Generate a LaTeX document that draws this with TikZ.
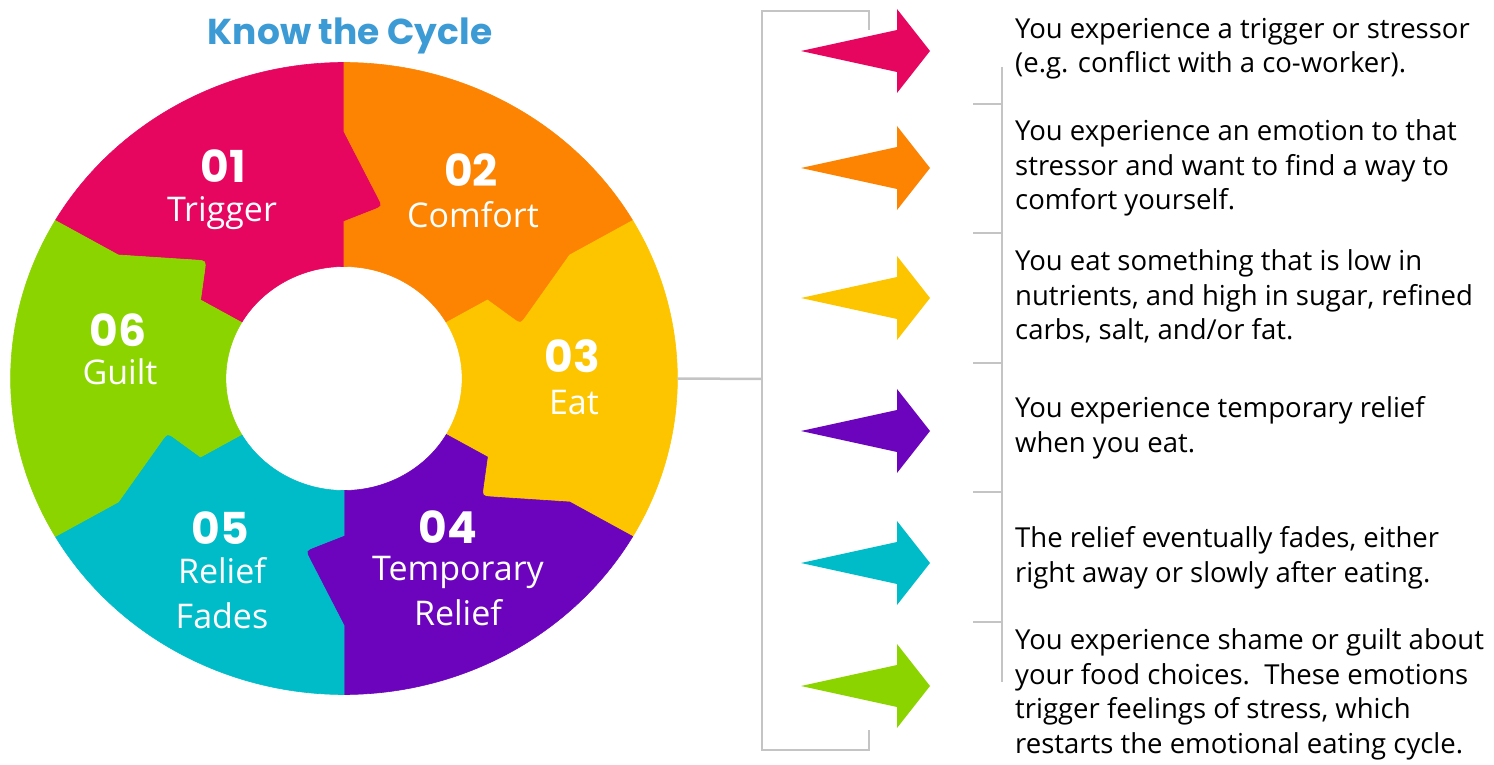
\documentclass[tikz,border=0pt]{standalone}
\usepackage{fontspec}
\setmainfont{Open Sans}
\newfontfamily\numfont{Poppins}
\usetikzlibrary{calc,positioning}

\definecolor{trigger}{HTML}{E6065F}
\definecolor{comfort}{HTML}{FD8402}
\definecolor{eat}{HTML}{FDC500}
\definecolor{relief}{HTML}{6C04BE}
\definecolor{fades}{HTML}{00BCC8}
\definecolor{guilt}{HTML}{8CD400}
\definecolor{titleblue}{HTML}{3C9AD5}
\definecolor{bracketgray}{HTML}{C4C4C4}

\tikzset{
  num/.style={font=\numfont\bfseries\fontsize{44}{44}\selectfont, text=white, anchor=base, inner sep=0pt},
  word/.style={font=\fontsize{34}{45}\selectfont, text=white, anchor=base, align=center, inner sep=0pt},
  desc/.style={font=\fontsize{27.5}{34.5}\selectfont, anchor=base west, align=left, inner sep=0pt},
  brace/.style={draw=bracketgray, line width=2.5pt},
}

% one piece of the ring: colour, clockwise edge angle, other edge angle
\newcommand{\cyclepart}[3]{%
  \filldraw[#1, line width=0.6pt] (#3:316) arc[start angle=#3, end angle=#2, radius=316]
    -- (#2:247) -- ($(#2-12:176)!10pt!(#2:247)$) .. controls (#2-12:176) .. ($(#2-12:176)!10pt!(#2:157)$)
    -- (#2:157) -- (#2:112) arc[start angle=#2, end angle=#3, radius=112]
    -- (#3:157) -- ($(#3-12:176)!10pt!(#3:157)$) .. controls (#3-12:176) .. ($(#3-12:176)!10pt!(#3:247)$)
    -- (#3:247) -- cycle;}

% big arrow: colour, centre height
\newcommand{\cyclearrow}[2]{%
  \fill[#1] (801,#2) -- (897,#2+21) -- (897,#2+42) -- (930,#2) -- (897,#2-42) -- (897,#2-21) -- cycle;}

\begin{document}
\begin{tikzpicture}[x=1pt, y=1pt]
  \useasboundingbox (0,0) rectangle (1494,764);

  \node (title) [font=\numfont\bfseries\fontsize{36}{36}\selectfont, text=titleblue, anchor=base] at (350,719) {Know the Cycle};

  % the ring
  \begin{scope}[shift={(344,385.5)}, x=1.055pt, y=1pt]
    \cyclepart{trigger}{90}{150}
    \cyclepart{comfort}{30}{90}
    \cyclepart{eat}{-30}{30}
    \cyclepart{relief}{-90}{-30}
    \cyclepart{fades}{-150}{-90}
    \cyclepart{guilt}{-210}{-150}
    \coordinate (ringeast) at (0:316);
  \end{scope}

  % labels, placed by the baseline of their last line
  \node (n01) [num] at (223,581) {01};
  \node (w01) [word] at (222,542) {Trigger};
  \node (n02) [num] at (471,577) {02};
  \node (w02) [word] at (473,536) {Comfort};
  \node (n03) [num] at (572,391) {03};
  \node (w03) [word] at (574,349) {Eat};
  \node (n04) [num] at (448,221) {04};
  \node (w04) [word] at (458,139) {Temporary\\Relief};
  \node (n05) [num] at (220,220) {05};
  \node (w05) [word] at (222,136) {Relief\\Fades};
  \node (n06) [num] at (118,417) {06};
  \node (w06) [word] at (120,379) {Guilt};

  % bracket
  \coordinate (brkmid) at (762,385);
  \coordinate (brktop) at (869,734);
  \coordinate (brkbot) at (869,34);
  \draw[brace] (ringeast) -- (brkmid);
  \draw[brace] (brktop) -- (869,753) -- (762,753) -- (762,14) -- (869,14) -- (brkbot);

  \cyclearrow{trigger}{713}
  \cyclearrow{comfort}{596}
  \cyclearrow{eat}{466}
  \cyclearrow{relief}{333}
  \cyclearrow{fades}{201}
  \cyclearrow{guilt}{78}

  % rule beside the texts
  \coordinate (ruletop) at (1002,697);
  \coordinate (rulebot) at (1002,82);
  \draw[brace, line width=2pt] (ruletop) -- (rulebot);
  \draw[brace, line width=2pt] (973,660) -- (1002,660);
  \draw[brace, line width=2pt] (973,531) -- (1002,531);
  \draw[brace, line width=2pt] (973,401) -- (1002,401);
  \draw[brace, line width=2pt] (973,272) -- (1002,272);
  \draw[brace, line width=2pt] (973,142) -- (1002,142);

  \node (desc1) [desc] at (1015,691) {You experience a trigger or stressor\\(e.g. conflict with a co-worker).};
  \node (desc2) [desc] at (1015,554) {You experience an emotion to that\\stressor and want to find a way to\\comfort yourself.};
  \node (desc3) [desc] at (1015,424) {You eat something that is low in\\nutrients, and high in sugar, refined\\carbs, salt, and/or fat.};
  \node (desc4) [desc] at (1015,312) {You experience temporary relief\\when you eat.};
  \node (desc5) [desc] at (1015,182) {The relief eventually fades, either\\right away or slowly after eating.};
  \node (desc6) [desc] at (1015,11) {You experience shame or guilt about\\your food choices.\ \ These emotions\\trigger feelings of stress, which\\restarts the emotional eating cycle.};
\end{tikzpicture}
\end{document}
